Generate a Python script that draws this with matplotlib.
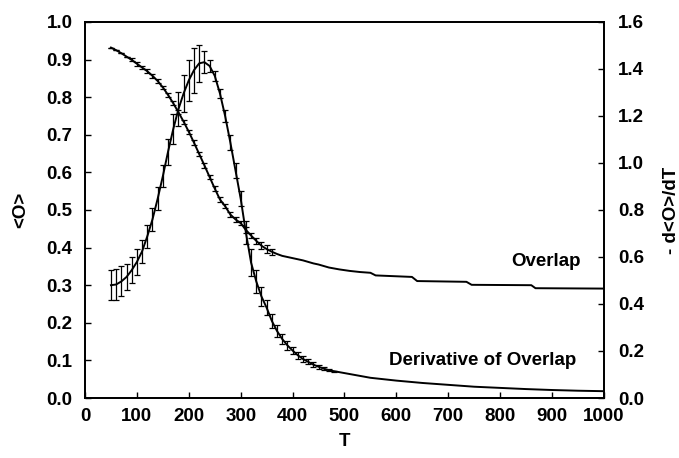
import matplotlib
matplotlib.use("Agg")
import matplotlib.pyplot as plt
import numpy as np

plt.rcParams['font.family'] = ['Liberation Sans', 'DejaVu Sans']
plt.rcParams['font.weight'] = 'bold'

# Overlap <O> (eixo esquerdo), pontos com barras de erro
t_overlap = [50, 60, 70, 80, 90, 100, 110, 120, 130, 140, 150, 160, 170, 180, 190,
             200, 210, 220, 230, 240, 250, 260, 270, 280, 290, 300, 310, 320, 330,
             340, 350, 360]
overlap = [0.932, 0.925, 0.917, 0.908, 0.899, 0.889, 0.879, 0.869, 0.857, 0.843,
           0.826, 0.806, 0.784, 0.760, 0.735, 0.708, 0.679, 0.649, 0.619, 0.588,
           0.557, 0.528, 0.510, 0.488, 0.475, 0.465, 0.447, 0.432, 0.418, 0.405,
           0.396, 0.389]
overlap_err = [0.0, 0.0, 0.0, 0.0, 0.004, 0.005, 0.005, 0.005, 0.005, 0.005,
               0.005, 0.005, 0.005, 0.005, 0.005, 0.006, 0.006, 0.006, 0.006, 0.006,
               0.006, 0.006, 0.006, 0.006, 0.006, 0.006, 0.007, 0.007, 0.008, 0.010,
               0.010, 0.008]

# cauda do overlap (em degraus, sem barras)
t_overlap_tail = [370, 380, 400, 420, 440, 450, 470, 490, 510, 530, 550, 560,
                  630, 640, 735, 745, 860, 868, 1000]
overlap_tail = [0.383, 0.378, 0.372, 0.366, 0.358, 0.355, 0.347, 0.342, 0.338,
                0.335, 0.333, 0.326, 0.322, 0.311, 0.309, 0.301, 0.300, 0.292, 0.291]

# Derivada -d<O>/dT (eixo direito)
t_deriv = [50, 60, 70, 80, 90, 100, 110, 120, 130, 140, 150, 160, 170, 180, 190,
           200, 210, 220, 230, 240, 250, 260, 270, 280, 290, 300, 310, 320, 330,
           340, 350, 360, 370, 380, 390, 400, 410, 420, 430, 440, 450, 460, 470, 480]
deriv = [0.480, 0.483, 0.496, 0.515, 0.544, 0.579, 0.624, 0.688, 0.760, 0.848,
         0.944, 1.048, 1.144, 1.229, 1.296, 1.352, 1.395, 1.424, 1.429, 1.413,
         1.371, 1.296, 1.200, 1.088, 0.968, 0.848, 0.704, 0.576, 0.496, 0.432,
         0.384, 0.328, 0.285, 0.251, 0.224, 0.202, 0.182, 0.166, 0.154, 0.142,
         0.133, 0.125, 0.118, 0.114]
deriv_err = [0.064, 0.064, 0.064, 0.056, 0.056, 0.056, 0.048, 0.048, 0.048, 0.048,
             0.048, 0.056, 0.064, 0.072, 0.080, 0.088, 0.096, 0.080, 0.048, 0.024,
             0.020, 0.020, 0.024, 0.032, 0.032, 0.032, 0.048, 0.056, 0.048, 0.040,
             0.032, 0.029, 0.024, 0.021, 0.019, 0.016, 0.014, 0.013, 0.011, 0.010,
             0.008, 0.006, 0.005, 0.003]

t_deriv_tail = [500, 550, 600, 650, 700, 750, 800, 850, 900, 950, 1000]
deriv_tail = [0.106, 0.086, 0.074, 0.064, 0.056, 0.048, 0.043, 0.038, 0.034,
              0.031, 0.029]

fig = plt.figure(figsize=(6.79, 4.58), dpi=100)
ax = fig.add_axes([0.1252, 0.131, 0.7643, 0.821])
ax2 = ax.twinx()

cor = "black"
fs = 13.5

# curva do overlap
ax.plot(t_overlap + t_overlap_tail, overlap + overlap_tail, color=cor, lw=1.4)
ax.errorbar(t_overlap, overlap, yerr=overlap_err, fmt="none", ecolor=cor,
            elinewidth=0.9, capsize=2.2, capthick=0.9)

# curva da derivada
ax2.plot(t_deriv + t_deriv_tail, deriv + deriv_tail, color=cor, lw=1.4)
ax2.errorbar(t_deriv, deriv, yerr=deriv_err, fmt="none", ecolor=cor,
             elinewidth=0.9, capsize=2.2, capthick=0.9)

ax.set_xlim(0, 1000)
ax.set_ylim(0, 1.0)
ax2.set_ylim(0, 1.6)

ax.set_xticks(np.arange(0, 1001, 100))
ax.set_yticks(np.arange(0, 1.01, 0.1))
ax.set_yticklabels(["%.1f" % v for v in np.arange(0, 1.01, 0.1)])
ax2.set_yticks(np.arange(0, 1.61, 0.2))
ax2.set_yticklabels(["%.1f" % v for v in np.arange(0, 1.61, 0.2)])

ax.tick_params(axis="both", direction="in", length=4, width=1.0, labelsize=fs,
               top=False)
ax.tick_params(axis="y", pad=9)
ax.tick_params(axis="x", pad=7)
ax2.tick_params(axis="y", direction="in", length=4, width=1.0, labelsize=fs, pad=10)

for a in (ax, ax2):
    for s in a.spines.values():
        s.set_linewidth(1.3)

ax.set_xlabel("T", fontsize=fs, fontweight="bold", labelpad=6)
ax.set_ylabel("<O>", fontsize=fs, fontweight="bold", labelpad=12)
ax2.set_ylabel("- d<O>/dT", fontsize=fs, fontweight="bold", labelpad=14)

ax.text(956, 0.363, "Overlap", fontsize=fs, fontweight="bold",
        ha="right", va="center")
ax.text(946, 0.101, "Derivative of Overlap", fontsize=fs, fontweight="bold",
        ha="right", va="center")

fig.savefig("out.png", dpi=100)
